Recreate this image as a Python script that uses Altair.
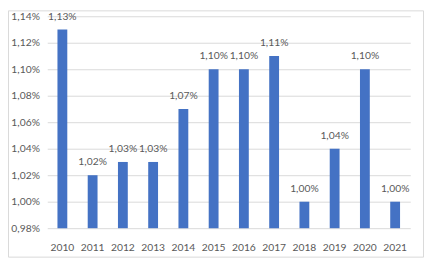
import altair as alt
import pandas as pd

years = ["2010", "2011", "2012", "2013", "2014", "2015", "2016", "2017", "2018", "2019", "2020", "2021"]
values = [1.13, 1.02, 1.03, 1.03, 1.07, 1.10, 1.10, 1.11, 1.00, 1.04, 1.10, 1.00]
y_ticks = [0.98, 1.00, 1.02, 1.04, 1.06, 1.08, 1.10, 1.12, 1.14]

df = pd.DataFrame({"year": years, "value": values})

W, H = 370, 216
FONT = "Lato"
GRAY = "#595959"

xenc = alt.X("year:N", sort=years, title=None,
             scale=alt.Scale(paddingInner=0.675, paddingOuter=0.3375),
             axis=alt.Axis(labelAngle=0, ticks=False, domain=False, labelPadding=15,
                           labelFont=FONT, labelFontSize=10.5, labelColor=GRAY))
yenc = alt.Y("value:Q", scale=alt.Scale(domain=[0.98, 1.14], zero=False, nice=False), title=None,
             axis=alt.Axis(values=y_ticks, ticks=False, domain=False, labelPadding=8,
                           labelOverlap=False, labelFlush=False,
                           gridColor="#d9d9d9", gridWidth=1,
                           labelFont=FONT, labelFontSize=10.5, labelColor=GRAY,
                           labelExpr="replace(format(datum.value, '.2f'), '.', ',') + '%'"))

base = alt.Chart(df).transform_calculate(
    lbl="replace(format(datum.value, '.2f'), '.', ',') + '%'"
).encode(x=xenc, y=yenc)

bars = base.mark_bar(color="#4472C4").encode(y2=alt.datum(0.98))

labels = base.mark_text(baseline="alphabetic", dy=-10, font=FONT, fontSize=10.5, color=GRAY).encode(
    text="lbl:N",
)

border = alt.Chart(pd.DataFrame({"a": [0]})).mark_rect(
    fill=None, stroke="#d9d9d9", strokeWidth=1
).encode(
    x=alt.value(-39.5), x2=alt.value(W + 13.5),
    y=alt.value(-5.5), y2=alt.value(H + 29.5),
)

chart = alt.layer(bars, labels, border).properties(
    width=W, height=H,
    padding={"left": 40, "top": 6, "right": 14, "bottom": 30},
    autosize=alt.AutoSizeParams(type="none"),
).configure_view(stroke=None)

chart.save("out.html", embed_options={"renderer": "svg", "actions": False})
